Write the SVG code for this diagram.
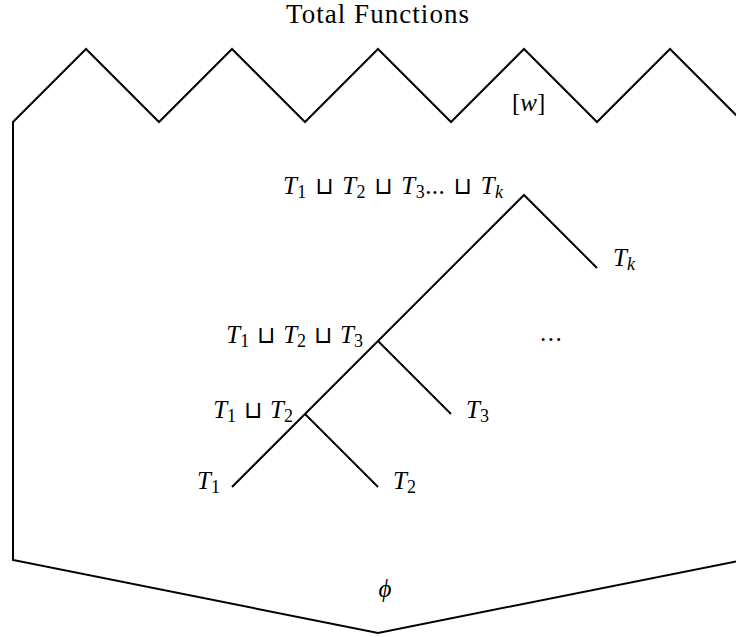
<svg xmlns="http://www.w3.org/2000/svg" width="736" height="637" viewBox="0 0 736 637">
<style>
.line{fill:none;stroke:#000;stroke-width:2;stroke-linejoin:miter;stroke-linecap:butt}
.t{font-family:"Liberation Serif","DejaVu Serif",serif;font-size:25px;fill:#000}
.m{font-style:italic}
.op{font-style:normal;font-family:"DejaVu Sans","Liberation Serif",sans-serif;font-size:24px}
.s{font-style:normal;font-size:18px}
.sk{font-style:italic;font-size:18px}
.dots{font-style:normal;font-size:25px}
.title{font-family:"Liberation Serif","DejaVu Serif",serif;font-size:27px;fill:#000}
</style>
<rect width="736" height="637" fill="#fff"/>
<g id="boundary">
<path class="line" d="M13,122 L86,49 L159,122 L232,49 L305,122 L378,49 L451,122 L524,49 L597,122 L670,49 L743,122 L743,560 L378,633 L13,560 Z"/>
</g>
<g id="title"><text class="title" x="377.5" y="23" text-anchor="middle" textLength="183" lengthAdjust="spacing">Total Functions</text></g>
<g id="top-label"><text class="t" x="512" y="111" font-size="23px">[<tspan class="m">w</tspan>]</text></g>
<g id="bottom-label"><text class="t m" x="385" y="597" text-anchor="middle">ϕ</text></g>
<g id="connectors">
<path class="line" d="M597,268 L524,195 L305,414 L232,487"/>
<path class="line" d="M378,341 L451,414"/>
<path class="line" d="M305,414 L378,487"/>
</g>
<g id="node-all"><text class="t m" x="283" y="194" textLength="220" lengthAdjust="spacing">T<tspan class="s" dy="4">1</tspan><tspan class="op" dy="-4"> ⊔ </tspan>T<tspan class="s" dy="4">2</tspan><tspan class="op" dy="-4"> ⊔ </tspan>T<tspan class="s" dy="4">3</tspan><tspan class="dots" dy="-4">...</tspan><tspan class="op"> ⊔ </tspan>T<tspan class="sk" dy="4">k</tspan></text></g>
<g id="node-tk"><text class="t m" x="613" y="266">T<tspan class="sk" dy="4">k</tspan></text></g>
<g id="node-dots"><text class="t" x="540" y="341" letter-spacing="1.5">...</text></g>
<g id="node-t123"><text class="t m" x="363" y="343" text-anchor="end">T<tspan class="s" dy="4">1</tspan><tspan class="op" dy="-4"> ⊔ </tspan>T<tspan class="s" dy="4">2</tspan><tspan class="op" dy="-4"> ⊔ </tspan>T<tspan class="s" dy="4">3</tspan></text></g>
<g id="node-t12"><text class="t m" x="293" y="418" text-anchor="end">T<tspan class="s" dy="4">1</tspan><tspan class="op" dy="-4"> ⊔ </tspan>T<tspan class="s" dy="4">2</tspan></text></g>
<g id="node-t3"><text class="t m" x="466" y="418">T<tspan class="s" dy="4">3</tspan></text></g>
<g id="node-t1"><text class="t m" x="220" y="489" text-anchor="end">T<tspan class="s" dy="4">1</tspan></text></g>
<g id="node-t2"><text class="t m" x="393" y="489">T<tspan class="s" dy="4">2</tspan></text></g>
</svg>
